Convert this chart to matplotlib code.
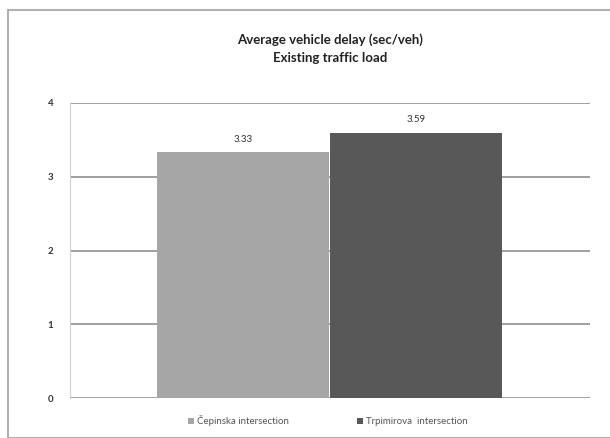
import matplotlib.pyplot as plt
from matplotlib.patches import Rectangle

# data
series = ['Čepinska intersection', 'Trpimirova  intersection']
delay = [3.33, 3.59]
labels = ['3.33', '3.59']
colors = ['#a6a6a6', '#585858']
yticks = [0, 1, 2, 3, 4]

plt.rcParams['font.family'] = ['Lato', 'DejaVu Sans']

fig = plt.figure(figsize=(6.10, 4.38), dpi=100)
W, H = 610, 438

# chart border
fig.patches.append(Rectangle((8 / W, 0), 1.0, 1 - 10 / H, transform=fig.transFigure,
                             fill=False, edgecolor='#b0b0b0', lw=1.5))

ax = fig.add_axes([70 / W, 1 - 398 / H, 520 / W, 295 / H])
ax.set_xlim(0, 1)
ax.set_ylim(0, 4)

lefts = [(157 - 70) / 520, (330 - 70) / 520]
width = 172 / 520
for i in range(len(delay)):
    ax.bar(lefts[i], delay[i], width=width, align='edge', color=colors[i],
           label=series[i], zorder=3)
    ax.text(lefts[i] + width / 2, delay[i] + 0.12, labels[i], ha='center', va='bottom',
            fontsize=7, color='#333333')

ax.set_yticks(yticks)
ax.set_yticklabels([str(t) for t in yticks], fontsize=7, fontweight='bold', color='#333333')
ax.yaxis.grid(True, color='#909090', lw=1.2, zorder=0)
ax.set_xticks([])
ax.tick_params(axis='y', length=0, pad=12)
for s in ['top', 'right', 'bottom']:
    ax.spines[s].set_visible(False)
ax.spines['left'].set_color('#d0d0d0')

fig.text(330 / W, 1 - 40 / H, 'Average vehicle delay (sec/veh)', ha='center', va='center',
         fontsize=9.5, fontweight='bold', color='#222222')
fig.text(330 / W, 1 - 58 / H, 'Existing traffic load', ha='center', va='center',
         fontsize=9.5, fontweight='bold', color='#222222')

fig.legend(loc='center', bbox_to_anchor=(328 / W, 1 - 421 / H), ncol=2, frameon=False,
           fontsize=7, handlelength=0.6, handleheight=0.6, handletextpad=0.3,
           columnspacing=7, labelcolor='#555555')

fig.savefig('out.png', dpi=100)
